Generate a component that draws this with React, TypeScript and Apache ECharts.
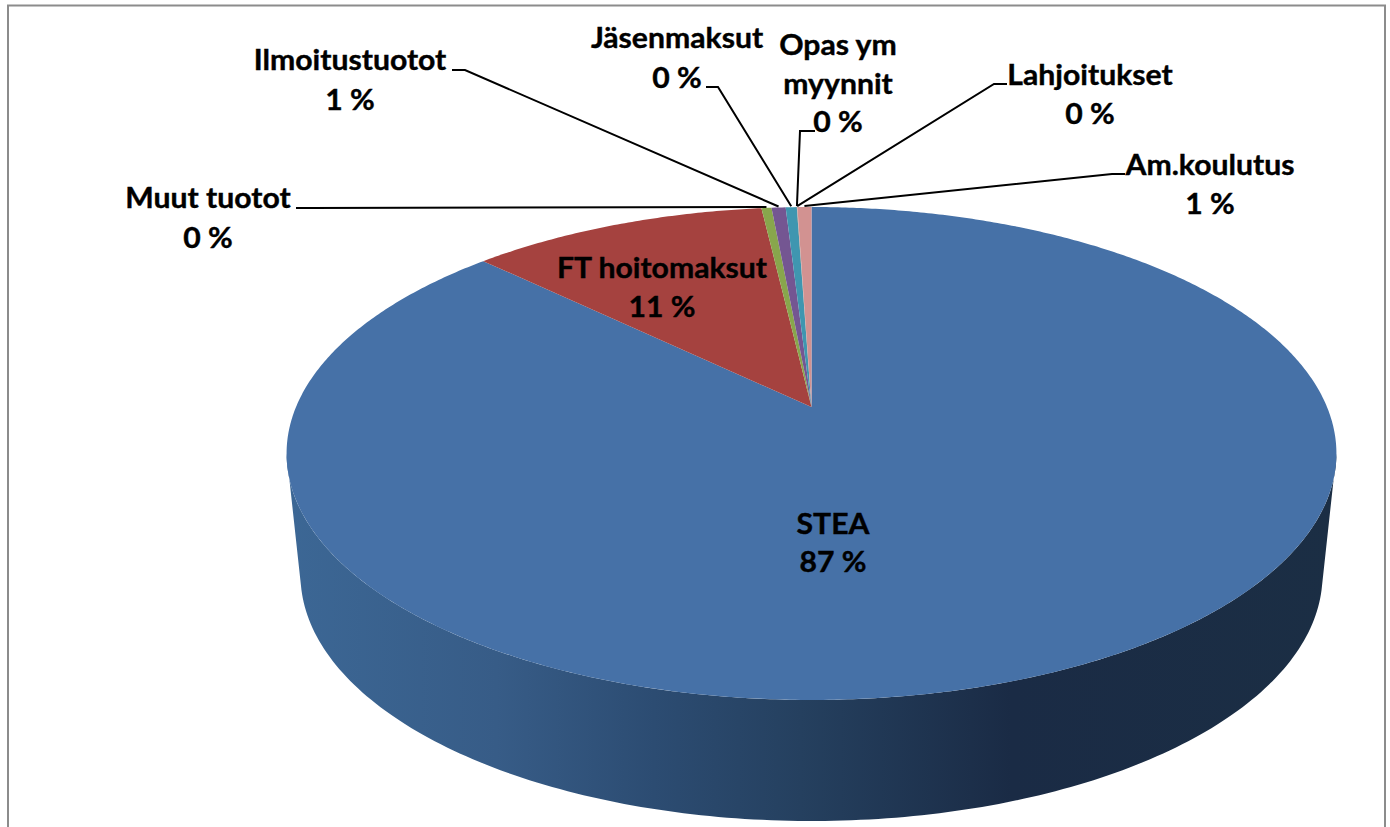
import React, { useEffect, useRef } from "react";
import * as echarts from "echarts";

const categories = ["STEA", "FT hoitomaksut", "Muut tuotot", "Ilmoitustuotot", "Jäsenmaksut", "Opas ym myynnit", "Lahjoitukset", "Am.koulutus"];
const values = [87.25, 10.96, 0.37, 0.52, 0.41, 0.01, 0.01, 0.52];
const colors = ["#4671A7", "#A5423F", "#88A64C", "#745692", "#3F96B0", "#D9823C", "#93A9CF", "#D29291"];

// label layout: one centre per text line
const labelLines: Record<string, string[]> = {
  "Opas ym myynnit": ["Opas ym", "myynnit"],
};
const labelCentres: Record<string, [number, number[]]> = {
  STEA: [833, [523, 561]],
  "FT hoitomaksut": [662, [267, 306]],
  "Muut tuotot": [208, [197, 237]],
  Ilmoitustuotot: [350, [59, 99]],
  "Jäsenmaksut": [677, [37, 77]],
  "Opas ym myynnit": [838, [44, 83, 121]],
  Lahjoitukset: [1090, [74, 113]],
  "Am.koulutus": [1210, [164, 203]],
};
const leaders: Record<string, [number, number][]> = {
  "Muut tuotot": [[296, 208], [310, 208]],
  Ilmoitustuotot: [[452, 70], [465, 70]],
  "Jäsenmaksut": [[706, 87], [718, 87]],
  "Opas ym myynnit": [[815, 131], [800, 131]],
  Lahjoitukset: [[1007, 84], [994, 84]],
  "Am.koulutus": [[1125, 174], [1112, 174]],
};

const FONT_SIZE = 29;
const FONT_SCALE_X = 1.04;

// Perspective projection of the pie disc onto the page
const CX = 811.5;
const CY = 407;
const K = 0.1886;
const A = 515.5;
const B = 237.7;
const project = (deg: number): [number, number] => {
  const t = (deg * Math.PI) / 180;
  const s = Math.sin(t);
  const c = -Math.cos(t);
  const d = 1 - K * c;
  return [CX + (A * s) / d, CY + (B * c) / d];
};
const WALL_RIGHT = (Math.acos(-K) * 180) / Math.PI;
const WALL_LEFT = 360 - WALL_RIGHT;
const BASE = { cx: 811.5, cy: 575, rx: 511, ry: 246, inset: 3.5 };

const total = values.reduce((a, b) => a + b, 0);
const starts: number[] = [];
values.reduce((acc, v, i) => {
  starts[i] = (acc / total) * 360;
  return acc + v;
}, 0);

const arc = (from: number, to: number): [number, number][] => {
  const n = Math.max(2, Math.ceil(Math.abs(to - from) / 0.5));
  const pts: [number, number][] = [];
  for (let i = 0; i <= n; i++) pts.push(project(from + ((to - from) * i) / n));
  return pts;
};

const wallGradient = new echarts.graphic.LinearGradient(0, 0, 1, 0, [
  { offset: 0, color: "#3C6795" },
  { offset: 0.2, color: "#375C87" },
  { offset: 0.35, color: "#2C4C72" },
  { offset: 0.49, color: "#25405F" },
  { offset: 0.69, color: "#1A2B45" },
  { offset: 1, color: "#1B2E44" },
]);

function renderSlice(params: any, api: any) {
  const i = params.dataIndex;
  const name = categories[i];
  const start = starts[i];
  const end = start + (api.value(0) / total) * 360;
  const children: any[] = [];

  const from = Math.max(start, WALL_RIGHT);
  const to = Math.min(end, WALL_LEFT);
  if (to > from) {
    const pts = arc(to, from);
    for (let j = BASE.inset; j <= 180 - BASE.inset; j += 1) {
      const t = (j * Math.PI) / 180;
      pts.push([BASE.cx + BASE.rx * Math.cos(t), BASE.cy + BASE.ry * Math.sin(t)]);
    }
    children.push({
      type: "polygon",
      shape: { points: pts },
      style: { fill: wallGradient },
    });
  }

  children.push({
    type: "polygon",
    shape: { points: [[CX, CY], ...arc(start, end)] },
    style: { fill: colors[i] },
  });

  const leader = leaders[name];
  if (leader) {
    const tip = project((start + end) / 2);
    children.push({
      type: "polyline",
      shape: { points: [...leader, [tip[0], tip[1] - 1]] },
      style: { stroke: "#000", lineWidth: 2, fill: "none" },
    });
  }

  const [lx, lys] = labelCentres[name];
  const lines = [...(labelLines[name] ?? [name]), `${Math.round((api.value(0) / total) * 100)} %`];
  lines.forEach((text, n) => {
    children.push({
      type: "text",
      x: lx,
      y: lys[n],
      scaleX: FONT_SCALE_X,
      style: {
        text,
        align: "center",
        verticalAlign: "middle",
        fontFamily: "Lato",
        fontWeight: 700,
        fontSize: FONT_SIZE,
        fill: "#000",
        stroke: "#000",
        lineWidth: 0.4,
      },
    });
  });
  return { type: "group", children };
}

export default function App() {
  const ref = useRef<HTMLDivElement>(null);
  useEffect(() => {
    const chart = echarts.init(ref.current!, undefined, { renderer: "svg" });
    chart.setOption({
      animation: false,
      backgroundColor: "#fff",
      graphic: [
        {
          type: "polyline",
          silent: true,
          shape: { points: [[8, 830], [8, 5.5], [1385, 5.5], [1385, 830]] },
          style: { stroke: "#8C8C8C", lineWidth: 2, fill: "none" },
        },
      ],
      series: [
        {
          type: "custom",
          coordinateSystem: "none",
          silent: true,
          renderItem: renderSlice,
          data: values.map((v, i) => ({ name: categories[i], value: [v] })),
        },
      ],
    });
    return () => chart.dispose();
  }, []);
  return (
    <div
      ref={ref}
      style={{ position: "fixed", left: 0, top: 0, width: 1390, height: 827, overflow: "hidden" }}
    />
  );
}
